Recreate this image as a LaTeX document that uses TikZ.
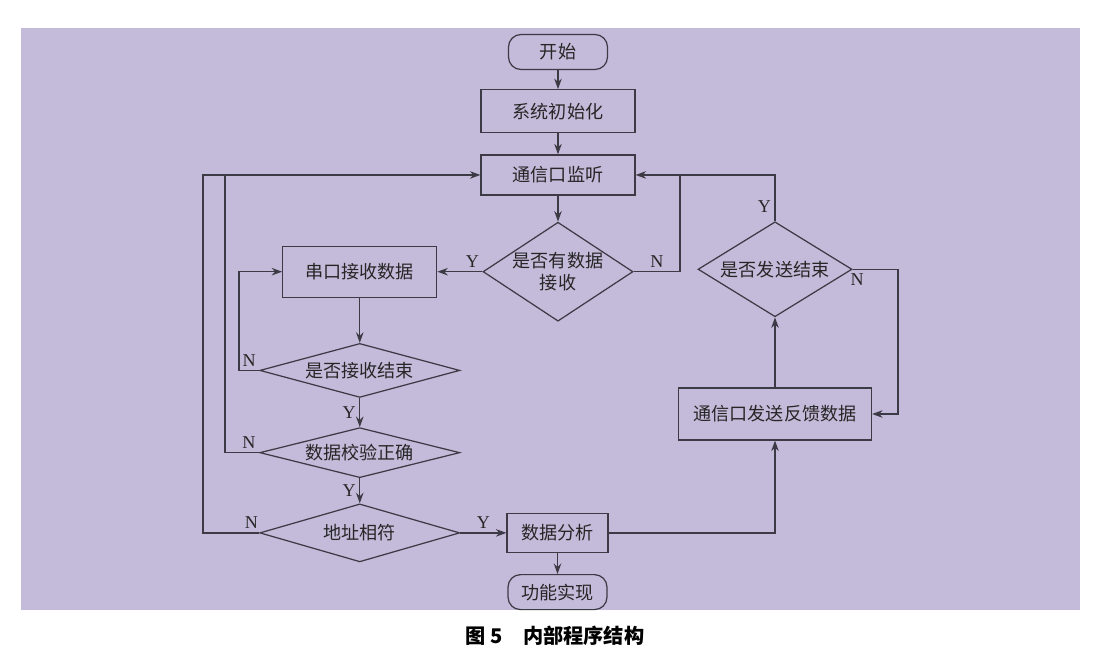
\documentclass[tikz,border=0pt]{standalone}
\usepackage{fontspec}
\setmainfont{Liberation Serif}
\newfontfamily\cjk{Noto Sans CJK SC}
\usepackage{tikz}
\usetikzlibrary{shapes.geometric, arrows.meta, positioning, calc}
\usepackage{xcolor}
\definecolor{bgpurple}{HTML}{C4BAD9}
\definecolor{linec}{HTML}{3C3A44}

\begin{document}
\begin{tikzpicture}[
    >={Stealth[length=2.1mm,width=1.5mm]},
    line width=0.7pt, draw=linec,
    base/.style={draw=linec, align=center, line width=0.7pt, text=black!85, font=\cjk\fontsize{10.3}{12.5}\selectfont},
    process/.style={base, rectangle, minimum width=3.08cm, minimum height=0.86cm},
    terminal/.style={base, rectangle, rounded corners=0.25cm, minimum width=1.98cm, minimum height=0.7cm},
    decision/.style={base, diamond, inner sep=0pt, aspect=1.5, minimum width=3cm, minimum height=1.98cm},
    flatdecision/.style={base, diamond, inner sep=0pt, aspect=3.7, minimum width=4cm, minimum height=1.08cm},
    yn/.style={font=\fontsize{10.3}{12}\selectfont, text=black!85, inner sep=2pt}
    ]

    % --- Fondo ---
    \useasboundingbox (0,0) rectangle (22.16,-13.24);
    \fill[bgpurple] (0.42,-0.56) rectangle (21.6,-12.2);

    % --- Columna Central ---
    \node (start) [terminal] at (11.16,-1.04) {开始};

    \node (init) [process, below=0.38cm of start] {系统初始化};

    \node (listen) [process, minimum height=0.8cm, below=0.42cm of init] {通信口监听};

    \node (hasdata) [decision, below=0.52cm of listen] {是否有数据\\接收};

    % --- Columna Izquierda ---
    \node (recv) [process, minimum height=1.02cm, left=0.9cm of hasdata] {串口接收数据};

    \node (recvend) [flatdecision, below=0.9cm of recv] {是否接收结束};

    \node (verify) [flatdecision, minimum height=1cm, below=0.58cm of recvend] {数据校验正确};

    \node (addr) [flatdecision, minimum height=1.16cm, below=0.5cm of verify] {地址相符};

    \node (analysis) [process, minimum width=2.02cm, minimum height=0.78cm, right=0.92cm of addr] {数据分析};

    \node (finish) [terminal, below=0.42cm of analysis] {功能实现};

    % --- Columna Derecha ---
    \node (feedback) [process, minimum width=3.86cm, minimum height=1.04cm] at (15.5,-8.28) {通信口发送反馈数据};

    \node (sendend) [decision, aspect=1.6, minimum width=3.08cm, minimum height=1.9cm, above=1.4cm of feedback] {是否发送结束};

    % --- Coordenadas de los buses ---
    \coordinate (outerbus) at (4.06,0);
    \coordinate (innerbus) at (4.5,0);
    \coordinate (recvbus) at (4.78,0);
    \coordinate (rightbus) at (13.6,0);
    \coordinate (loopbus) at (17.96,0);

    % --- Conexiones Centrales ---
    \draw[->] (start) -- (init);
    \draw[->] (init) -- (listen);
    \draw[->] (listen) -- (hasdata);
    \draw[->] (hasdata.west) -- node[yn, pos=0.22, above] {Y} (recv.east);
    \draw[->] (recv) -- (recvend);
    \draw[->] (recvend) -- node[yn, midway, left] {Y} (verify);
    \draw[->] (verify) -- node[yn, midway, left] {Y} (addr);
    \draw[->] (addr) -- node[yn, midway, above] {Y} (analysis);
    \draw[->] (analysis) -- (finish);

    % --- Bucles N ---
    \draw[->] (recvend.west) -- node[yn, pos=0.5, above] {N} (recvend.west -| recvbus) |- (recv.west);
    \draw (verify.west) -- node[yn, pos=0.3, above] {N} (verify.west -| innerbus) -- (innerbus |- listen.west);
    \draw[->] (addr.west) -- node[yn, pos=0.14, above] {N} (addr.west -| outerbus) |- (listen.west);
    \draw (hasdata.east) -- node[yn, midway, above] {N} (hasdata.east -| rightbus) -- (rightbus |- listen.east);

    % --- Envio de respuesta ---
    \draw[->] (analysis.east) -| (feedback.south);
    \draw[->] (feedback) -- (sendend);
    \draw[->] (sendend.north) |- node[yn, pos=0.16, left] {Y} (listen.east);
    \draw[->] (sendend.east) -- node[yn, pos=0.1, below] {N} (sendend.east -| loopbus) |- (feedback.east);

    % --- Titulo ---
    \node (caption) [font=\cjk\bfseries\fontsize{11.5}{13}\selectfont] at (11.1,-12.72) {图 5\quad 内部程序结构};

\end{tikzpicture}
\end{document}
